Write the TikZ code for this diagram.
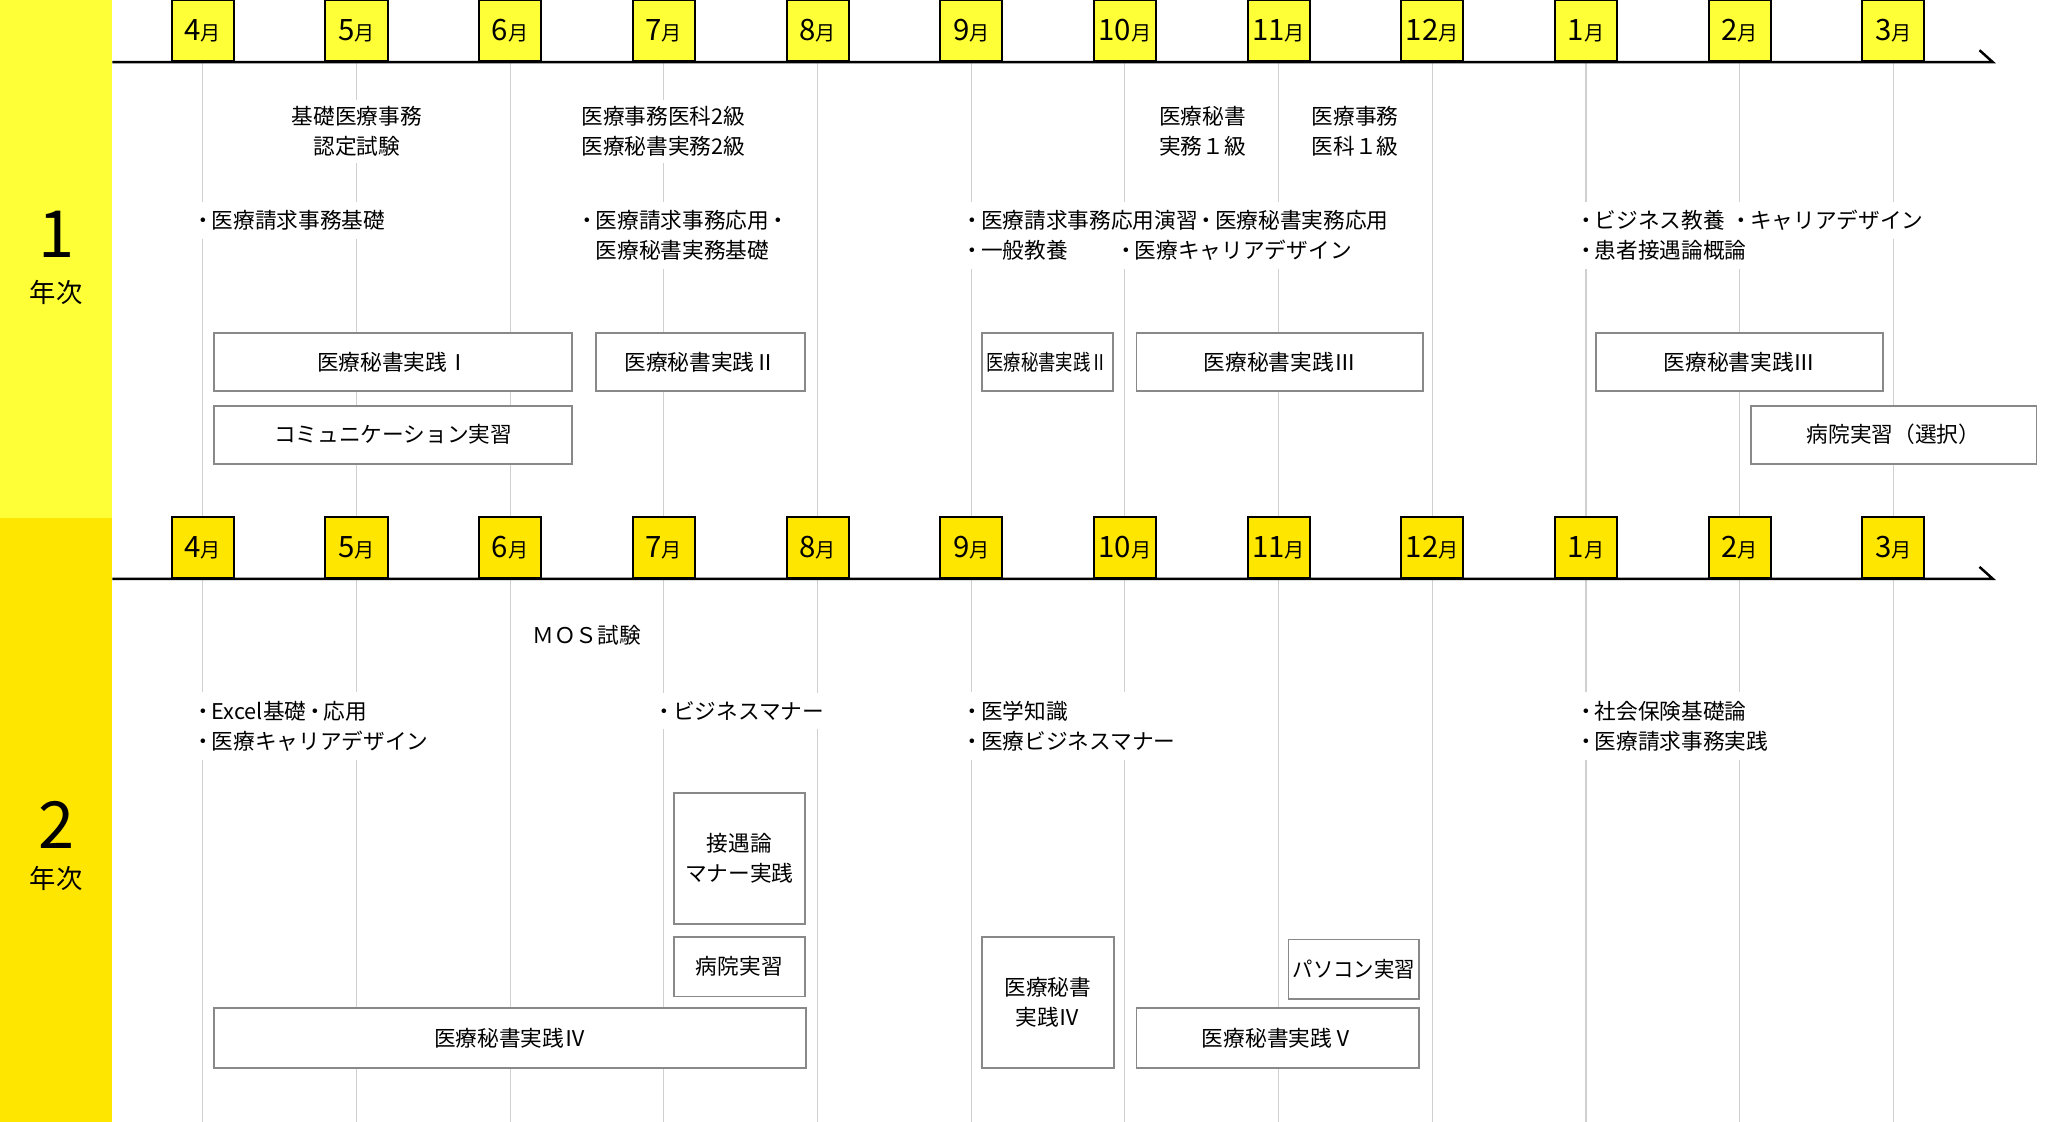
\documentclass[tikz,border=0pt]{standalone}
\usepackage{fontspec}
\setmainfont{Noto Sans CJK JP}
\usepackage{graphicx}
\usepackage{tikz}
\usetikzlibrary{positioning}
\definecolor{yearone}{HTML}{FFFF37}
\definecolor{yeartwo}{HTML}{FFE600}
\definecolor{gridgray}{HTML}{D0D0D0}
\definecolor{boxgray}{HTML}{898989}
\newcommand{\monthlabel}[1]{{\fontsize{19}{19}\selectfont #1}{\fontsize{13}{13}\selectfont 月}}
\newcommand{\bul}{\makebox[0.8em][c]{・}}

\begin{document}
\begin{tikzpicture}[
  x=0.03cm, y=-0.03cm,
  every node/.style={font=\fontsize{14}{19.6}\selectfont, inner sep=0pt},
  monthbox/.style={draw=black, line width=1.3pt, anchor=south,
                   minimum width=1.41cm, minimum height=1.38cm},
  gridline/.style={draw=gridgray, line width=0.7pt},
  timeline/.style={draw=black, line width=1.6pt},
  course/.style={draw=boxgray, fill=white, line width=1.1pt, align=center},
  exam/.style={fill=white, align=center, inner xsep=2pt, inner ysep=4pt},
  item/.style={fill=white, align=left, anchor=west, inner xsep=0pt, inner ysep=5.5pt},
  yearnum/.style={font=\fontsize{42}{42}\selectfont},
  yearlbl/.style={font=\fontsize{17}{17}\selectfont},
]
  \useasboundingbox (0,0) rectangle (1568,849);
  \fill[yearone] (0,0) rectangle (85,392);
  \fill[yeartwo] (0,392) rectangle (85,849);
  \node[yearnum] (yr1) at (42.5,177) {1};
  \node[yearlbl] (yr1t) at (42.5,221) {年次};
  \node[yearnum] (yr2) at (42.5,624) {2};
  \node[yearlbl] (yr2t) at (42.5,665) {年次};

  \foreach \mon [count=\i from 0] in {4,5,6,7,8,9,10,11,12,1,2,3}{
    \pgfmathsetmacro{\mx}{153.5+116.3*\i}
    \node[monthbox, fill=yearone] (ma\mon) at (\mx,47) {\monthlabel{\mon}};
    \node[monthbox, fill=yeartwo] (mb\mon) at (\mx,438) {\monthlabel{\mon}};
    \draw[gridline] (ma\mon.south) -- (mb\mon.north);
    \draw[gridline] (mb\mon.south) -- (\mx,849);
  }
  \coordinate (t1s) at (85,47);
  \coordinate (t1e) at (1508,47);
  \coordinate (t2s) at (85,438);
  \coordinate (t2e) at (1508,438);
  \draw[timeline] (t1s) -- (t1e) -- ++(-10,-9);
  \draw[timeline] (t2s) -- (t2e) -- ++(-10,-9);

  \node[exam] (ex1) at (270,99.5) {基礎医療事務\\認定試験};
  \node[exam] (ex2) at (502,99.5) {医療事務医科2級\\医療秘書実務2級};
  \node[exam] (ex3) at (910,99.5) {医療秘書\\実務１級};
  \node[exam] (ex4) at (1025.5,99.5) {医療事務\\医科１級};

  \node[item] (it1a) at (147,167) {\bul 医療請求事務基礎};
  \node[item] (it1b) at (437.5,178) {\bul 医療請求事務応用\bul\\\hspace*{0.8em}医療秘書実務基礎};
  \node[item] (it1c) at (729,178) {\bul 医療請求事務応用演習\bul 医療秘書実務応用\\\bul 一般教養};
  \node[item] (it1d) at (845.5,189.5) {\bul 医療キャリアデザイン};
  \node[item] (it1e) at (1193.5,178) {\bul ビジネス教養\\\bul 患者接遇論概論};
  \node[item] (it1f) at (1311,167) {\bul キャリアデザイン};

  \node[course, minimum width=8.13cm, minimum height=1.32cm] (prac1) at (297.5,274) {医療秘書実践Ⅰ};
  \node[course, minimum width=8.13cm, minimum height=1.32cm] (comm) at (297.5,329) {コミュニケーション実習};
  \node[course, minimum width=4.74cm, minimum height=1.32cm] (prac2a) at (530,274) {医療秘書実践Ⅱ};
  \node[course, minimum width=2.97cm, minimum height=1.32cm] (prac2b) at (792.5,274) {\scalebox{0.8}[1]{医療秘書実践Ⅱ}};
  \node[course, minimum width=6.51cm, minimum height=1.32cm] (prac3a) at (968.5,274) {医療秘書実践Ⅲ};
  \node[course, minimum width=6.51cm, minimum height=1.32cm] (prac3b) at (1316.5,274) {医療秘書実践Ⅲ};
  \node[course, minimum width=6.48cm, minimum height=1.32cm] (hosp1) at (1433,329) {病院実習（選択）};

  \node[exam] (ex5) at (444,481) {ＭＯＳ試験};
  \node[item] (it2a) at (147,549.5) {\bul Excel基礎\bul 応用\\\bul 医療キャリアデザイン};
  \node[item] (it2b) at (496,538) {\bul ビジネスマナー};
  \node[item] (it2c) at (729,549.5) {\bul 医学知識\\\bul 医療ビジネスマナー};
  \node[item] (it2d) at (1193.5,549.5) {\bul 社会保険基礎論\\\bul 医療請求事務実践};

  \node[course, minimum width=2.97cm, minimum height=2.97cm] (manner) at (559.5,649.5) {接遇論\\マナー実践};
  \node[course, minimum width=2.97cm, minimum height=1.35cm] (hosp2) at (559.5,731.5) {病院実習};
  \node[course, minimum width=13.44cm, minimum height=1.35cm] (prac4a) at (386,785.5) {医療秘書実践Ⅳ};
  \node[course, minimum width=3.0cm, minimum height=2.97cm] (prac4b) at (793,758.5) {医療秘書\\実践Ⅳ};
  \node[course, minimum width=2.97cm, minimum height=1.35cm] (pcprac) at (1024.5,733.5) {\scalebox{0.94}[1]{パソコン実習}};
  \node[course, minimum width=6.42cm, minimum height=1.35cm] (prac5) at (967,785.5) {医療秘書実践Ⅴ};
\end{tikzpicture}
\end{document}
